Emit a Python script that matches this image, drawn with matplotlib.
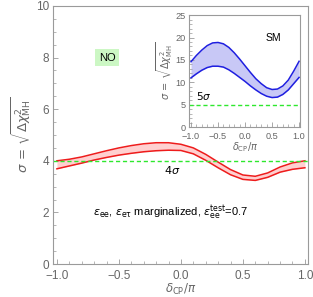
import matplotlib

matplotlib.use("Agg")

import matplotlib.pyplot as plt
from matplotlib.ticker import MultipleLocator

plt.rcParams["font.family"] = ["Liberation Sans", "DejaVu Sans"]
plt.rcParams["mathtext.fontset"] = "dejavusans"

delta = [-1.0, -0.9, -0.8, -0.7, -0.6, -0.5, -0.4, -0.3, -0.2, -0.1, 0.0,
         0.1, 0.2, 0.3, 0.4, 0.5, 0.6, 0.7, 0.8, 0.9, 1.0]

no_upper = [4.00, 4.06, 4.15, 4.27, 4.39, 4.50, 4.59, 4.66, 4.70, 4.70, 4.64,
            4.50, 4.25, 3.95, 3.66, 3.45, 3.40, 3.53, 3.76, 3.92, 4.00]
no_lower = [3.69, 3.80, 3.91, 4.03, 4.13, 4.22, 4.29, 4.35, 4.39, 4.41, 4.40,
            4.27, 4.02, 3.73, 3.46, 3.28, 3.24, 3.36, 3.56, 3.67, 3.73]

sm_upper = [14.6, 16.0, 17.2, 18.2, 18.8, 18.9, 18.6, 17.8, 16.6, 15.2, 13.7,
            12.2, 10.8, 9.7, 8.8, 8.4, 8.5, 9.2, 10.5, 12.5, 14.7]
sm_lower = [11.0, 11.9, 12.7, 13.3, 13.6, 13.6, 13.4, 12.8, 12.0, 11.1, 10.2,
            9.2, 8.3, 7.5, 6.9, 6.6, 6.7, 7.3, 8.3, 9.7, 11.1]

main_level = 4
inset_level = 5

gray = "#9a9a9a"
tick_col = "#666666"
red = "#ee1c1c"
blue = "#1f1fe0"
green = "#2ee82e"


def style_axes(ax, labelsize):
    for sp in ax.spines.values():
        sp.set_color(gray)
        sp.set_linewidth(0.8)
    ax.tick_params(which="both", direction="in", colors=gray,
                   labelcolor=tick_col, labelsize=labelsize,
                   top=False, right=False)
    ax.tick_params(which="major", length=3.5, width=0.6)
    ax.tick_params(which="minor", length=2, width=0.5)


fig = plt.figure(figsize=(3.13, 2.97), dpi=100)

ax = fig.add_axes([0.170, 0.111, 0.814, 0.869])
ax.fill_between(delta, no_lower, no_upper, color="#ffd0d0", lw=0)
ax.plot(delta, no_upper, color=red, lw=1.1)
ax.plot(delta, no_lower, color=red, lw=1.1)
ax.axhline(main_level, color=green, lw=1.0, ls=(0, (3, 2)))
ax.set_xlim(-1.03, 1.025)
ax.set_ylim(0, 10)
ax.set_xticks([-1.0, -0.5, 0.0, 0.5, 1.0])
ax.set_xticklabels(["\u22121.0", "\u22120.5", "0.0", "0.5", "1.0"])
ax.xaxis.set_minor_locator(MultipleLocator(0.1))
ax.yaxis.set_major_locator(MultipleLocator(2))
ax.yaxis.set_minor_locator(MultipleLocator(0.5))
style_axes(ax, 8.5)
ax.tick_params(axis="y", which="major", pad=3)
ax.tick_params(axis="x", which="major", pad=4)
ax.set_xlabel(r"$\delta_{\rm CP}/\pi$", fontsize=8.5, color=tick_col, labelpad=0)
ax.set_ylabel(r"$\sigma\,=\,\sqrt{\Delta\chi^2_{\rm MH}}$", fontsize=9.5,
              color=tick_col, labelpad=2)

ax.text(0.212, 0.8, "NO", transform=ax.transAxes, fontsize=8, ha="center",
        va="center", bbox=dict(boxstyle="square,pad=0.35", fc="#ccf7c4", ec="none"))
ax.text(0.467, 0.365, r"$4\sigma$", transform=ax.transAxes, fontsize=8,
        ha="center", va="center")
ax.text(0.463, 0.2,
        r"$\epsilon_{\rm ee}$, $\epsilon_{\rm e\tau}$ marginalized, "
        r"$\epsilon_{\rm ee}^{\rm test}$=0.7",
        transform=ax.transAxes, fontsize=8, ha="center", va="center")

ins = fig.add_axes([0.605, 0.572, 0.354, 0.377])
ins.fill_between(delta, sm_lower, sm_upper, color="#c8c8f6", lw=0)
ins.plot(delta, sm_upper, color=blue, lw=1.1)
ins.plot(delta, sm_lower, color=blue, lw=1.1)
ins.axhline(inset_level, color=green, lw=1.0, ls=(0, (3, 2)))
ins.set_xlim(-1.03, 1.02)
ins.set_ylim(0, 25)
ins.set_xticks([-1.0, -0.5, 0.0, 0.5, 1.0])
ins.set_xticklabels(["\u22121.0", "\u22120.5", "0.0", "0.5", "1.0"])
ins.xaxis.set_minor_locator(MultipleLocator(0.1))
ins.yaxis.set_major_locator(MultipleLocator(5))
ins.yaxis.set_minor_locator(MultipleLocator(1))
style_axes(ins, 6.6)
ins.tick_params(axis="y", which="major", pad=2.5)
ins.tick_params(axis="x", which="major", pad=3.2)
ins.set_xlabel(r"$\delta_{\rm CP}/\pi$", fontsize=7, color=tick_col, labelpad=0)
ins.set_ylabel(r"$\sigma\,=\,\sqrt{\Delta\chi^2_{\rm MH}}$", fontsize=7,
               color=tick_col, labelpad=0.5)
ins.text(0.76, 0.795, "SM", transform=ins.transAxes, fontsize=7.5,
         ha="center", va="center")
ins.text(0.13, 0.275, r"$5\sigma$", transform=ins.transAxes, fontsize=7.5,
         ha="center", va="center")

fig.savefig("out.png", dpi=100)
plt.close(fig)
